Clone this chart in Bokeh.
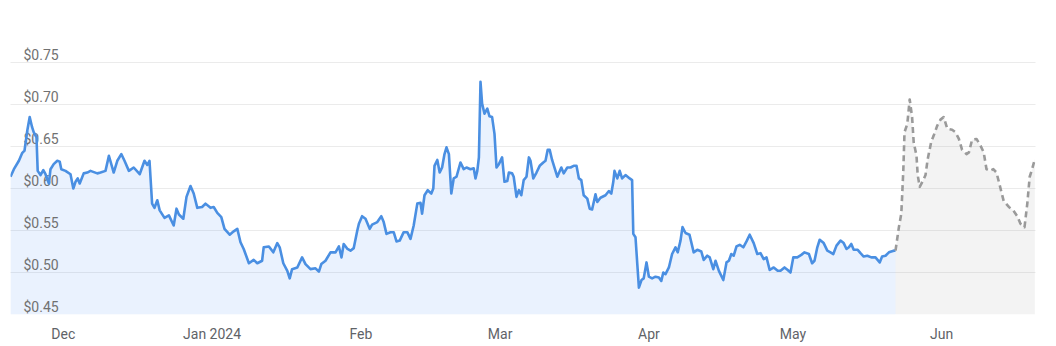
import pandas as pd
from bokeh.plotting import figure
from bokeh.models import Range1d, FixedTicker, Grid, ColumnDataSource
from bokeh.core.properties import value
from bokeh.embed import file_html
from bokeh.resources import INLINE

# ---------------- data ----------------
start = pd.Timestamp("2023-11-20 00:00")
end_hours = 5125

price_hours = [
    0, 17, 42, 58, 70, 84, 96, 108, 116, 130, 136, 150, 164, 175, 192, 200, 216, 234, 246, 254,
    275, 300, 314, 325, 336, 346, 366, 384, 400, 434, 450, 475, 492, 516, 534, 554, 570, 592, 616, 646,
    670, 684, 695, 708, 720, 734, 746, 770, 792, 816, 830, 842, 864, 880, 900, 916, 934, 958, 975, 1000,
    1016, 1034, 1054, 1070, 1096, 1116, 1134, 1150, 1166, 1192, 1216, 1234, 1258, 1266, 1292, 1314, 1334, 1346, 1364, 1384,
    1396, 1408, 1434, 1458, 1475, 1500, 1525, 1542, 1554, 1575, 1600, 1625, 1642, 1655, 1666, 1685, 1700, 1716, 1734, 1742,
    1758, 1775, 1796, 1808, 1834, 1854, 1866, 1880, 1900, 1916, 1930, 1946, 1966, 1984, 2000, 2016, 2034, 2050, 2058, 2070,
    2086, 2104, 2114, 2120, 2134, 2146, 2158, 2170, 2180, 2192, 2204, 2216, 2230, 2250, 2266, 2280, 2300, 2316, 2325, 2334,
    2342, 2350, 2358, 2370, 2384, 2395, 2408, 2420, 2430, 2442, 2458, 2470, 2484, 2492, 2508, 2516, 2530, 2542, 2554, 2566,
    2580, 2592, 2600, 2614, 2630, 2646, 2664, 2675, 2686, 2696, 2708, 2725, 2734, 2754, 2766, 2784, 2800, 2816, 2830, 2842,
    2854, 2866, 2884, 2896, 2908, 2925, 2934, 2950, 2975, 2992, 3004, 3014, 3020, 3034, 3046, 3058, 3075, 3096, 3108, 3114,
    3125, 3134, 3142, 3155, 3166, 3180, 3192, 3208, 3225, 3242, 3254, 3264, 3275, 3292, 3308, 3325, 3336, 3350, 3360, 3375,
    3395, 3416, 3434, 3454, 3466, 3484, 3496, 3514, 3525, 3542, 3564, 3580, 3592, 3604, 3616, 3630, 3646, 3664, 3680, 3696,
    3716, 3734, 3750, 3766, 3780, 3796, 3816, 3836, 3850, 3870, 3886, 3900, 3914, 3934, 3954, 3970, 3992, 4008, 4020, 4034,
    4046, 4066, 4084, 4100, 4114, 4130, 4150, 4166, 4180, 4192, 4204, 4216, 4236, 4250, 4266, 4284, 4304, 4325, 4346, 4358,
    4375, 4392, 4416, 4425,
]
price_values = [
    0.614, 0.623, 0.633, 0.642, 0.645, 0.669, 0.685, 0.673, 0.667, 0.661, 0.621, 0.616, 0.622, 0.617, 0.606, 0.623, 0.629, 0.633, 0.632, 0.623,
    0.621, 0.617, 0.600, 0.608, 0.612, 0.606, 0.618, 0.619, 0.621, 0.618, 0.619, 0.621, 0.639, 0.619, 0.633, 0.641, 0.633, 0.621, 0.625, 0.617,
    0.633, 0.628, 0.633, 0.582, 0.577, 0.586, 0.574, 0.565, 0.568, 0.556, 0.576, 0.569, 0.564, 0.590, 0.603, 0.594, 0.577, 0.578, 0.582, 0.577,
    0.578, 0.571, 0.566, 0.552, 0.545, 0.549, 0.552, 0.536, 0.528, 0.511, 0.515, 0.511, 0.514, 0.530, 0.531, 0.524, 0.535, 0.530, 0.511, 0.502,
    0.493, 0.504, 0.506, 0.518, 0.510, 0.504, 0.505, 0.501, 0.510, 0.514, 0.524, 0.524, 0.531, 0.518, 0.534, 0.528, 0.526, 0.529, 0.550, 0.558,
    0.567, 0.564, 0.552, 0.557, 0.560, 0.567, 0.560, 0.546, 0.548, 0.548, 0.537, 0.538, 0.548, 0.548, 0.540, 0.556, 0.582, 0.583, 0.570, 0.592,
    0.598, 0.594, 0.600, 0.627, 0.634, 0.619, 0.625, 0.641, 0.649, 0.641, 0.594, 0.612, 0.614, 0.631, 0.623, 0.625, 0.623, 0.624, 0.612, 0.621,
    0.637, 0.727, 0.701, 0.689, 0.695, 0.686, 0.685, 0.665, 0.625, 0.629, 0.637, 0.608, 0.609, 0.619, 0.618, 0.614, 0.590, 0.598, 0.592, 0.610,
    0.614, 0.637, 0.633, 0.612, 0.619, 0.627, 0.631, 0.633, 0.646, 0.646, 0.634, 0.621, 0.614, 0.625, 0.618, 0.625, 0.625, 0.627, 0.627, 0.612,
    0.610, 0.592, 0.588, 0.576, 0.575, 0.593, 0.584, 0.589, 0.592, 0.597, 0.594, 0.608, 0.621, 0.612, 0.621, 0.612, 0.616, 0.612, 0.610, 0.546,
    0.542, 0.510, 0.482, 0.491, 0.493, 0.512, 0.495, 0.493, 0.495, 0.494, 0.490, 0.500, 0.498, 0.506, 0.522, 0.530, 0.524, 0.538, 0.554, 0.547,
    0.545, 0.524, 0.527, 0.525, 0.515, 0.520, 0.518, 0.504, 0.514, 0.502, 0.491, 0.512, 0.514, 0.522, 0.520, 0.531, 0.533, 0.530, 0.537, 0.545,
    0.535, 0.522, 0.523, 0.516, 0.518, 0.503, 0.506, 0.502, 0.502, 0.506, 0.503, 0.500, 0.518, 0.518, 0.521, 0.524, 0.522, 0.511, 0.514, 0.530,
    0.539, 0.535, 0.526, 0.524, 0.522, 0.532, 0.538, 0.535, 0.528, 0.530, 0.534, 0.527, 0.527, 0.523, 0.519, 0.520, 0.518, 0.518, 0.512, 0.519,
    0.520, 0.524, 0.526, 0.526,
]

forecast_hours = [
    4425, 4442, 4454, 4464, 4470, 4484, 4496, 4508, 4516, 4530, 4536, 4546, 4564, 4575, 4586, 4604, 4616, 4634, 4650, 4666,
    4684, 4708, 4725, 4742, 4758, 4780, 4792, 4808, 4830, 4850, 4866, 4880, 4896, 4914, 4930, 4946, 4966, 4992, 5014, 5034,
    5050, 5070, 5084, 5096, 5108, 5122,
]
forecast_values = [
    0.526, 0.554, 0.570, 0.621, 0.667, 0.677, 0.706, 0.685, 0.655, 0.639, 0.616, 0.602, 0.610, 0.616, 0.635, 0.656, 0.663, 0.675, 0.682, 0.685,
    0.671, 0.670, 0.667, 0.659, 0.646, 0.641, 0.643, 0.658, 0.659, 0.651, 0.643, 0.623, 0.621, 0.623, 0.619, 0.604, 0.585, 0.578, 0.574, 0.567,
    0.558, 0.554, 0.582, 0.614, 0.623, 0.635,
]

y_ticks = [0.45, 0.50, 0.55, 0.60, 0.65, 0.70, 0.75]
y_tick_labels = ["$0.45", "$0.50", "$0.55", "$0.60", "$0.65", "$0.70", "$0.75"]
month_ticks = ["2023-12-01", "2024-01-01", "2024-02-01", "2024-03-01", "2024-04-01", "2024-05-01", "2024-06-01"]
month_labels = ["Dec", "Jan 2024", "Feb", "Mar", "Apr", "May", "Jun"]

# ---------------- build ----------------
FONT = "Roboto"
base = 0.45

price_dates = [start + pd.Timedelta(hours=h) for h in price_hours]
fc_dates = [start + pd.Timedelta(hours=h) for h in forecast_hours]

p = figure(
    width=1056, height=346,
    x_axis_type="datetime", y_axis_location=None,
    x_range=Range1d(start, start + pd.Timedelta(hours=end_hours)),
    y_range=Range1d(0.45, 0.7881),
    min_border_left=10, min_border_right=21, min_border_top=30, min_border_bottom=32,
    toolbar_location=None, output_backend="svg",
)
p.outline_line_color = None
p.background_fill_color = "white"
p.border_fill_color = "white"
p.xgrid.visible = False

ygrid = Grid(dimension=1, ticker=FixedTicker(ticks=y_ticks),
             grid_line_color="#ebebeb", grid_line_width=1)
p.add_layout(ygrid)

src = ColumnDataSource(dict(x=price_dates, y=price_values))
fsrc = ColumnDataSource(dict(x=fc_dates, y=forecast_values))

p.varea(x="x", y1=base, y2="y", source=src, fill_color="#4285f4", fill_alpha=0.11)
p.varea(x="x", y1=base, y2="y", source=fsrc, fill_color="#9e9e9e", fill_alpha=0.12)

lsrc = ColumnDataSource(dict(x=[start] * len(y_ticks), y=y_ticks, t=y_tick_labels))
p.text(x="x", y="y", text="t", source=lsrc, x_offset=13, y_offset=-8,
       text_font=value(FONT), text_font_size="14px", text_color="#717171",
       text_align="left", text_baseline="alphabetic")

p.line(x="x", y="y", source=src, line_color="#4a8fe2", line_width=2.6, line_join="round")
p.line(x="x", y="y", source=fsrc, line_color="#9a9a9a", line_width=2.6,
       line_dash="6 4", line_join="round")

tick_ms = [int(pd.Timestamp(d).value // 10**6) for d in month_ticks]
xa = p.xaxis[0]
xa.ticker = FixedTicker(ticks=tick_ms)
xa.major_label_overrides = {t: lab for t, lab in zip(tick_ms, month_labels)}
xa.axis_line_color = None
xa.major_tick_line_color = None
xa.minor_tick_line_color = None
xa.major_tick_out = 0
xa.major_tick_in = 0
xa.major_label_standoff = 11
xa.major_label_text_font = FONT
xa.major_label_text_font_size = "14px"
xa.major_label_text_color = "#5f6368"

open("out.html", "w").write(file_html(p, INLINE))
